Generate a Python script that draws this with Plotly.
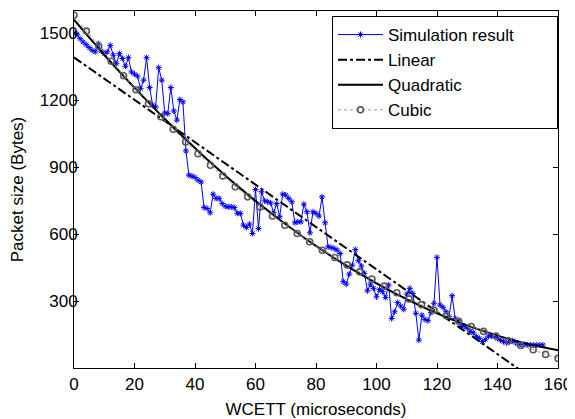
import plotly.graph_objects as go

# Simulation result (WCETT in microseconds, packet size in bytes)
sim_y = [1502, 1496, 1476, 1461, 1449, 1436, 1424, 1417, 1454, 1421,
         1409, 1417, 1446, 1402, 1364, 1409, 1387, 1352, 1391, 1327,
         1317, 1308, 1252, 1290, 1391, 1257, 1178, 1170, 1346, 1290,
         1143, 1140, 1257, 1152, 1111, 1203, 1193, 973, 864, 860,
         854, 842, 834, 719, 715, 696, 779, 760, 760, 737,
         725, 722, 722, 719, 693, 693, 640, 630, 645, 603,
         800, 625, 790, 749, 745, 740, 696, 737, 678, 779,
         775, 760, 745, 651, 655, 655, 734, 700, 606, 700,
         693, 681, 767, 651, 543, 540, 536, 528, 513, 387,
         376, 421, 461, 531, 481, 457, 424, 346, 376, 357,
         319, 352, 342, 316, 372, 222, 252, 293, 278, 263,
         331, 357, 334, 245, 125, 237, 218, 212, 248, 290,
         496, 282, 272, 252, 230, 324, 222, 212, 185, 188,
         178, 163, 158, 140, 133, 118, 128, 143, 143, 143,
         133, 125, 118, 113, 118, 122, 113, 106, 103, 106,
         103, 103, 103, 103, 103, 103]
sim_x = list(range(len(sim_y)))

# Linear fit (end points)
lin_x = [0, 160]
lin_y = [1392, -128]

# Quadratic fit
quad_x = [0, 5, 10, 15, 20, 25, 30, 35, 40, 45, 50, 55, 60, 65, 70, 75, 80,
          85, 90, 95, 100, 105, 110, 115, 120, 125, 130, 135, 140, 145, 150, 155, 160]
quad_y = [1561, 1482, 1404, 1329, 1256, 1185, 1117, 1050, 986, 923, 863, 805, 749,
          696, 644, 594, 547, 502, 459, 418, 379, 342, 308, 275, 245, 217, 191,
          167, 145, 126, 108, 93, 80]

# Cubic fit
cub_x = [0, 4.1, 8.2, 12.3, 16.4, 20.5, 24.6, 28.7, 32.8, 36.9,
         41.0, 45.1, 49.2, 53.3, 57.4, 61.5, 65.6, 69.7, 73.8, 77.9,
         82.1, 86.2, 90.3, 94.4, 98.5, 102.6, 106.7, 110.8, 114.9, 119.0,
         123.1, 127.2, 131.3, 135.4, 139.5, 143.6, 147.7, 151.8, 155.9, 160]
cub_y = [1581, 1510, 1442, 1375, 1310, 1247, 1184, 1126, 1070, 1013,
         960, 909, 861, 812, 767, 722, 681, 640, 603, 566,
         528, 495, 462, 431, 399, 367, 337, 309, 284, 260,
         234, 209, 186, 164, 143, 122, 101, 82, 61, 43]

x_ticks = [0, 20, 40, 60, 80, 100, 120, 140, 160]
y_ticks = [300, 600, 900, 1200, 1500]

FONT = "Liberation Sans, Arial, Helvetica, sans-serif"
FS = 17
PAD = "\u00a0" * 8  # extra right padding inside the legend box

fig = go.Figure()
fig.add_trace(go.Scatter(
    x=sim_x, y=sim_y, mode="lines+markers", name="Simulation result" + PAD,
    line=dict(color="#0000ff", width=1),
    marker=dict(symbol="asterisk", size=5, color="#0000ff",
                line=dict(color="#0000ff", width=1)),
))
fig.add_trace(go.Scatter(
    x=lin_x, y=lin_y, mode="lines", name="Linear",
    line=dict(color="black", width=2, dash="dashdot"),
))
fig.add_trace(go.Scatter(
    x=quad_x, y=quad_y, mode="lines", name="Quadratic",
    line=dict(color="black", width=2, shape="spline"),
))
fig.add_trace(go.Scatter(
    x=cub_x, y=cub_y, mode="lines+markers", name="Cubic",
    line=dict(color="#999999", width=1, dash="dot"),
    marker=dict(symbol="circle-open", size=6, color="#5a5a5a",
                line=dict(color="#5a5a5a", width=1.6)),
))

axis_common = dict(
    showline=True, linecolor="black", linewidth=1, mirror="ticks",
    ticks="inside", ticklen=5, tickcolor="black", tickwidth=1,
    showgrid=False, zeroline=False,
    tickfont=dict(family=FONT, size=FS, color="black"),
)

# The page body has an 8px default margin, so the figure is shrunk by 8px
# and the margins are reduced accordingly.
fig.update_layout(
    width=567, height=411,
    margin=dict(l=66, r=17, t=3, b=51, autoexpand=False),
    paper_bgcolor="white", plot_bgcolor="white",
    font=dict(family=FONT, size=FS, color="black"),
    xaxis=dict(range=[0, 160], tickvals=x_ticks, ticklabelstandoff=1,
               automargin=False,
               title=dict(text="WCETT (microseconds)", standoff=15,
                          font=dict(family=FONT, size=FS)),
               **axis_common),
    yaxis=dict(range=[0, 1600], tickvals=y_ticks, ticklabelstandoff=-8,
               automargin=False,
               title=dict(text="Packet size (Bytes)", standoff=20,
                          font=dict(family=FONT, size=FS)),
               **axis_common),
    legend=dict(x=1, xanchor="right", y=0.986, yanchor="top",
                bgcolor="white", bordercolor="black", borderwidth=1,
                font=dict(family=FONT, size=FS), itemwidth=45,
                tracegroupgap=0),
    showlegend=True,
)

fig.write_html("out.html")
